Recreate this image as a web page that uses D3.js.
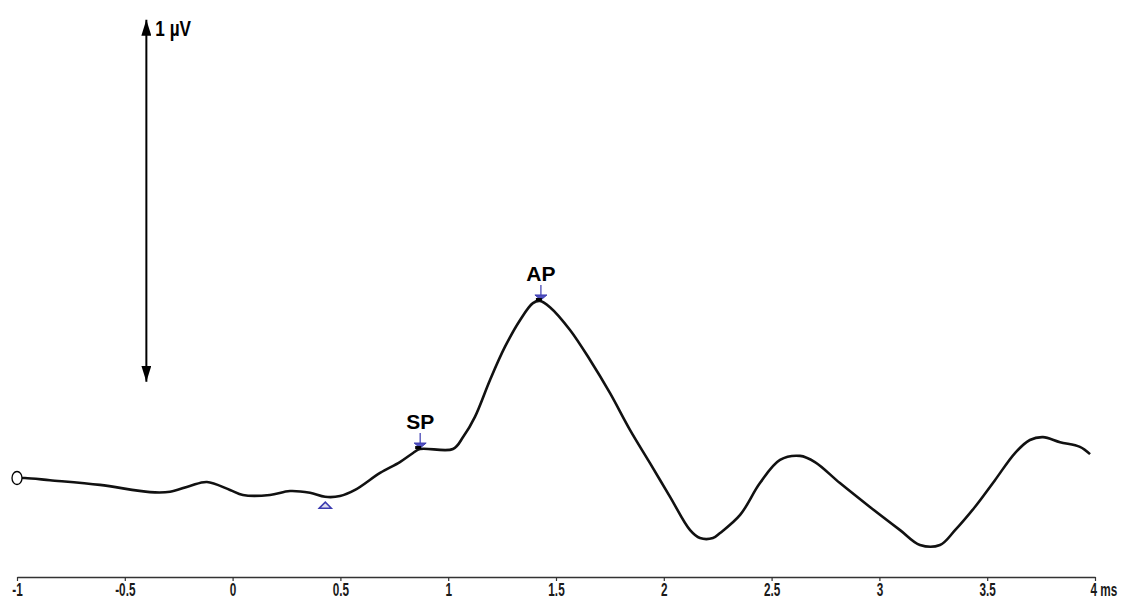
<!DOCTYPE html>
<html>
<head>
<meta charset="utf-8">
<script src="https://cdn.jsdelivr.net/npm/d3@7"></script>
<style>
  body { margin: 0; background: #fff; }
</style>
</head>
<body>
<svg width="1125" height="600"></svg>
<script>
// waveform: time (ms) / amplitude (µV, relative to start)
var timeMs = [-1, -0.963, -0.847, -0.615, -0.383, -0.29, -0.198, -0.119, -0.012, 0.048, 0.173, 0.266, 0.359, 0.429, 0.498, 0.568,
    0.684, 0.776, 0.837, 0.869, 1.022, 1.069, 1.124, 1.194, 1.263, 1.333, 1.393, 1.426, 1.472, 1.565, 1.658, 1.75, 1.843, 1.936,
    2.029, 2.122, 2.168, 2.228, 2.261, 2.354, 2.446, 2.539, 2.632, 2.701, 2.817, 2.956, 3.096, 3.188, 3.281, 3.351, 3.443, 3.536,
    3.629, 3.698, 3.759, 3.838, 3.93, 3.977];
var amplitude = [0, 0, -0.006, -0.019, -0.039, -0.038, -0.022, -0.011, -0.033, -0.047, -0.047, -0.036, -0.041, -0.052, -0.05, -0.033,
    0.014, 0.044, 0.069, 0.08, 0.08, 0.113, 0.169, 0.271, 0.362, 0.436, 0.483, 0.489, 0.472, 0.409, 0.326, 0.235, 0.133, 0.041,
    -0.052, -0.144, -0.166, -0.166, -0.152, -0.102, -0.014, 0.05, 0.061, 0.044, -0.014, -0.08, -0.144, -0.185, -0.185, -0.144, -0.08, -0.006,
    0.069, 0.105, 0.113, 0.099, 0.086, 0.066];

var tickValues = [-1, -0.5, 0, 0.5, 1, 1.5, 2, 2.5, 3, 3.5, 4];
var tickLabels = ["-1", "-0.5", "0", "0.5", "1", "1.5", "2", "2.5", "3", "3.5", "4 ms"];

var peakNames = ["SP", "AP"];
var peakTimes = [0.87, 1.43];
var peakAmps = [0.08, 0.489];

var troughTime = 0.43;
var troughAmp = -0.075;

var scaleBarTime = -0.4;
var scaleBarAmps = [0.266, 1.266];
var scaleBarLabel = "1 µV";

var svg = d3.select("svg");

var x = d3.scaleLinear().domain([-1, 4]).range([17, 1095]);
var y = d3.scaleLinear().domain([0, 1]).range([478, 116]);

var data = timeMs.map(function (t, i) { return { t: t, v: amplitude[i] }; });

// x axis
var axis = d3.axisBottom(x)
    .tickValues(tickValues)
    .tickSize(4)
    .tickSizeOuter(0)
    .tickFormat(function (d, i) { return tickLabels[i]; });

var gx = svg.append("g")
    .attr("transform", "translate(0,577)")
    .call(axis);
gx.select(".domain").attr("stroke", "#333").attr("stroke-width", 1.5);
gx.selectAll(".tick line").attr("stroke", "#333").attr("stroke-width", 1.2);
// condensed look, like the original narrow font
gx.selectAll(".tick text")
    .attr("font-family", "'Liberation Sans', Arial, sans-serif")
    .attr("font-size", 19)
    .attr("font-weight", "bold")
    .attr("fill", "#1a1a1a")
    .attr("y", 0)
    .attr("dy", null)
    .attr("transform", "translate(0,19) scale(0.62,1)");
gx.selectAll(".tick text").filter(function (d) { return d === 4; })
    .attr("text-anchor", "start")
    .attr("dx", -8);

// arrow markers for scale bar
var defs = svg.append("defs");
defs.append("marker")
    .attr("id", "head")
    .attr("viewBox", "0 0 16 10")
    .attr("refX", 16).attr("refY", 5)
    .attr("markerWidth", 16).attr("markerHeight", 10)
    .attr("markerUnits", "userSpaceOnUse")
    .attr("orient", "auto-start-reverse")
    .append("path")
    .attr("d", "M0,0 L16,5 L0,10 Z")
    .attr("fill", "#000");

svg.append("line")
    .attr("x1", x(scaleBarTime)).attr("x2", x(scaleBarTime))
    .attr("y1", y(scaleBarAmps[0])).attr("y2", y(scaleBarAmps[1]))
    .attr("stroke", "#000")
    .attr("stroke-width", 2)
    .attr("marker-start", "url(#head)")
    .attr("marker-end", "url(#head)");

svg.append("text")
    .attr("transform", "translate(" + (x(scaleBarTime) + 9) + "," + (y(scaleBarAmps[1]) + 16) + ") scale(0.78,1)")
    .attr("font-family", "'Liberation Sans', Arial, sans-serif")
    .attr("font-weight", "bold")
    .attr("font-size", 22)
    .text(scaleBarLabel);

// waveform
var line = d3.line()
    .x(function (d) { return x(d.t); })
    .y(function (d) { return y(d.v); })
    .curve(d3.curveCatmullRom.alpha(0.5));

svg.append("path")
    .datum(data)
    .attr("d", line)
    .attr("fill", "none")
    .attr("stroke", "#111")
    .attr("stroke-width", 2.6)
    .attr("stroke-linejoin", "round");

// start marker
svg.append("ellipse")
    .attr("cx", x(timeMs[0]))
    .attr("cy", y(amplitude[0]))
    .attr("rx", 5).attr("ry", 6.5)
    .attr("fill", "#fff")
    .attr("stroke", "#000")
    .attr("stroke-width", 1.3);

// trough marker
var tx = x(troughTime), ty = y(troughAmp);
svg.append("path")
    .attr("d", "M" + (tx - 6) + "," + (ty + 3) + " L" + tx + "," + (ty - 3) + " L" + (tx + 6) + "," + (ty + 3) + " Z")
    .attr("fill", "#dde")
    .attr("stroke", "#3b3bb0")
    .attr("stroke-width", 1.5);

// peak markers
peakNames.forEach(function (name, i) {
    var px = x(peakTimes[i]), py = y(peakAmps[i]);
    var g = svg.append("g");
    g.append("line")
        .attr("x1", px).attr("x2", px)
        .attr("y1", py - 16).attr("y2", py - 2)
        .attr("stroke", "#3b3bb0").attr("stroke-width", 1.2);
    g.append("path")
        .attr("d", "M" + (px - 6) + "," + (py - 6) + " L" + (px + 6) + "," + (py - 6) + " L" + px + "," + (py - 1) + " Z")
        .attr("fill", "#5050c0")
        .attr("stroke", "#3b3bb0").attr("stroke-width", 1);
    g.append("rect")
        .attr("x", px - 5).attr("y", py - 3)
        .attr("width", 6).attr("height", 3)
        .attr("fill", "#000");
    g.append("text")
        .attr("x", px)
        .attr("y", py - 20)
        .attr("text-anchor", "middle")
        .attr("font-family", "'Liberation Sans', Arial, sans-serif")
        .attr("font-weight", "bold")
        .attr("font-size", 21)
        .text(name);
});
</script>
</body>
</html>
